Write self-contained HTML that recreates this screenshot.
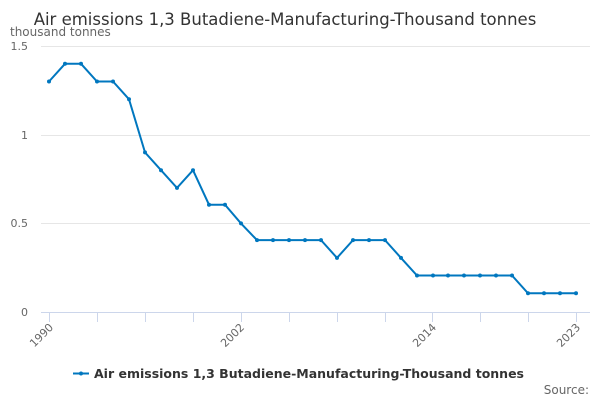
<!DOCTYPE html>
<html><head><meta charset="utf-8"><style>
body{margin:0;background:#fff;font-family:"Liberation Sans","DejaVu Sans",sans-serif;}
</style></head><body>
<svg width="600" height="400" xmlns="http://www.w3.org/2000/svg" font-family="DejaVu Sans, Liberation Sans, sans-serif">
<text x="285" y="25" text-anchor="middle" font-size="16.5" fill="#333">Air emissions 1,3 Butadiene-Manufacturing-Thousand tonnes</text>
<text x="10" y="36" font-size="12" fill="#666">thousand tonnes</text>
<g stroke="#e6e6e6" stroke-width="1">
<line x1="41" x2="590" y1="46.5" y2="46.5"/>
<line x1="41" x2="590" y1="135.5" y2="135.5"/>
<line x1="41" x2="590" y1="223.5" y2="223.5"/>
</g>
<line x1="41" x2="590" y1="312.5" y2="312.5" stroke="#ccd6eb"/>
<g stroke="#ccd6eb">
<line x1="49.5" x2="49.5" y1="312" y2="322"/><line x1="97.5" x2="97.5" y1="312" y2="322"/><line x1="145.5" x2="145.5" y1="312" y2="322"/><line x1="193.5" x2="193.5" y1="312" y2="322"/><line x1="241.5" x2="241.5" y1="312" y2="322"/><line x1="289.5" x2="289.5" y1="312" y2="322"/><line x1="337.5" x2="337.5" y1="312" y2="322"/><line x1="385.5" x2="385.5" y1="312" y2="322"/><line x1="432.5" x2="432.5" y1="312" y2="322"/><line x1="480.5" x2="480.5" y1="312" y2="322"/><line x1="528.5" x2="528.5" y1="312" y2="322"/><line x1="576.5" x2="576.5" y1="312" y2="322"/>
</g>
<g font-size="11" fill="#666" text-anchor="end">
<text x="28" y="50">1.5</text><text x="28" y="139">1</text><text x="28" y="227">0.5</text><text x="28" y="316">0</text>
</g>
<g font-size="11" fill="#666" text-anchor="end">
<text transform="translate(54,328) rotate(-45)">1990</text>
<text transform="translate(245,328) rotate(-45)">2002</text>
<text transform="translate(437,328) rotate(-45)">2014</text>
<text transform="translate(581,328) rotate(-45)">2023</text>
</g>
<polyline fill="none" stroke="#0077bf" stroke-width="2" points="49,81.5 65,63.8 81,63.8 97,81.5 113,81.5 129,99.2 145,152.4 161,170.2 177,187.9 193,170.2 209,204.7 225,204.7 241,223.4 257,240.1 273,240.1 289,240.1 305,240.1 321,240.1 337,257.9 353,240.1 369,240.1 385,240.1 401,257.9 417,275.5 433,275.5 448,275.5 464,275.5 480,275.5 496,275.5 512,275.5 528,293.3 544,293.3 560,293.3 576,293.3"/>
<g fill="#0077bf">
<circle cx="49" cy="81.5" r="2"/><circle cx="65" cy="63.8" r="2"/><circle cx="81" cy="63.8" r="2"/><circle cx="97" cy="81.5" r="2"/><circle cx="113" cy="81.5" r="2"/><circle cx="129" cy="99.2" r="2"/><circle cx="145" cy="152.4" r="2"/><circle cx="161" cy="170.2" r="2"/><circle cx="177" cy="187.9" r="2"/><circle cx="193" cy="170.2" r="2"/><circle cx="209" cy="204.7" r="2"/><circle cx="225" cy="204.7" r="2"/><circle cx="241" cy="223.4" r="2"/><circle cx="257" cy="240.1" r="2"/><circle cx="273" cy="240.1" r="2"/><circle cx="289" cy="240.1" r="2"/><circle cx="305" cy="240.1" r="2"/><circle cx="321" cy="240.1" r="2"/><circle cx="337" cy="257.9" r="2"/><circle cx="353" cy="240.1" r="2"/><circle cx="369" cy="240.1" r="2"/><circle cx="385" cy="240.1" r="2"/><circle cx="401" cy="257.9" r="2"/><circle cx="417" cy="275.5" r="2"/><circle cx="433" cy="275.5" r="2"/><circle cx="448" cy="275.5" r="2"/><circle cx="464" cy="275.5" r="2"/><circle cx="480" cy="275.5" r="2"/><circle cx="496" cy="275.5" r="2"/><circle cx="512" cy="275.5" r="2"/><circle cx="528" cy="293.3" r="2"/><circle cx="544" cy="293.3" r="2"/><circle cx="560" cy="293.3" r="2"/><circle cx="576" cy="293.3" r="2"/>
</g>
<line x1="73" x2="89" y1="373.5" y2="373.5" stroke="#0077bf" stroke-width="2"/>
<circle cx="81" cy="373.5" r="2" fill="#0077bf"/>
<text x="94" y="378" font-size="12.5" font-weight="bold" fill="#333" textLength="430" lengthAdjust="spacingAndGlyphs">Air emissions 1,3 Butadiene-Manufacturing-Thousand tonnes</text>
<text x="589" y="394" text-anchor="end" font-size="12" fill="#666">Source:</text>
</svg>
</body></html>
